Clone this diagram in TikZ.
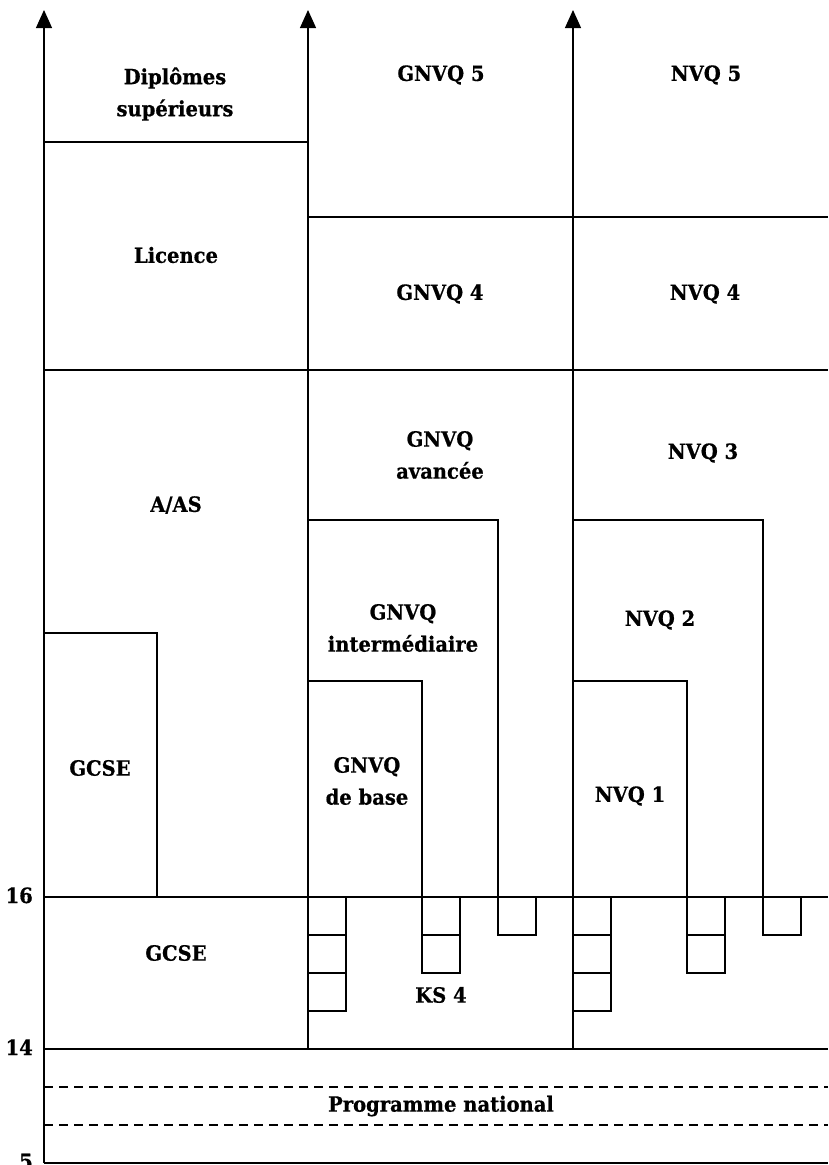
\documentclass[tikz,border=0pt]{standalone}
\usepackage{fontspec}
\newfontfamily\labfont{DejaVu Serif}[FakeStretch=0.93,FakeBold=0.6]
\usetikzlibrary{arrows.meta}
\begin{document}
\begin{tikzpicture}[x=1pt,y=-1pt,
  ln/.style={line width=1.2pt},
  ax/.style={line width=1.2pt,-{Triangle[width=16pt,length=18pt]}},
  dsh/.style={line width=1.1pt,dash pattern=on 9pt off 6pt},
  lab/.style={font=\labfont\bfseries\fontsize{21}{32}\selectfont,align=center,inner sep=0pt},
  num/.style={font=\labfont\bfseries\fontsize{21}{24}\selectfont,inner sep=0pt,anchor=base east},
  sq/.style={line width=1.2pt}]
\useasboundingbox (0,0) rectangle (828,1165);
% axes
\coordinate (a1b) at (44,1163); \coordinate (a1t) at (44,10);
\coordinate (a2b) at (308,1049); \coordinate (a2t) at (308,10);
\coordinate (a3b) at (573,1049); \coordinate (a3t) at (573,10);
\draw[ax] (a1b) -- (a1t);
\draw[ax] (a2b) -- (a2t);
\draw[ax] (a3b) -- (a3t);
% horizontal lines
\draw[ln] (44,142) -- (308,142);
\draw[ln] (308,217) -- (828,217);
\draw[ln] (44,370) -- (828,370);
\draw[ln] (44,897) -- (828,897);
\draw[ln] (44,1049) -- (828,1049);
\draw[dsh] (44,1087) -- (828,1087);
\draw[dsh] (44,1125) -- (828,1125);
\draw[ln] (44,1163) -- (828,1163);
% inner boxes
\draw[ln] (44,633) -- (157,633) -- (157,897);
\draw[ln] (308,520) -- (498,520) -- (498,897);
\draw[ln] (308,681) -- (422,681) -- (422,897);
\draw[ln] (573,520) -- (763,520) -- (763,897);
\draw[ln] (573,681) -- (687,681) -- (687,897);
% small squares
\foreach \x/\n in {308/3,422/2,498/1,573/3,687/2,763/1}{
  \foreach \k in {1,...,\n}{
    \draw[sq] (\x,{897+38*(\k-1)}) rectangle ({\x+38},{897+38*\k});
  }
}
% labels
\node[lab] (dip) at (175,94) {Diplômes\\supérieurs};
\node[lab] (g5) at (441,75) {GNVQ 5};
\node[lab] (n5) at (706,75) {NVQ 5};
\node[lab] (lic) at (176,255) {Licence};
\node[lab] (g4) at (440,294) {GNVQ 4};
\node[lab] (n4) at (705,294) {NVQ 4};
\node[lab] (aas) at (176,505) {A/AS};
\node[lab] (gav) at (440,455) {GNVQ\\avancée};
\node[lab] (n3) at (703,453) {NVQ 3};
\node[lab] (gint) at (403,628) {GNVQ\\intermédiaire};
\node[lab] (n2) at (660,620) {NVQ 2};
\node[lab] (gcse1) at (100,768) {GCSE};
\node[lab] (gbase) at (367,781) {GNVQ\\de base};
\node[lab] (n1) at (630,796) {NVQ 1};
\node[lab] (gcse2) at (176,953) {GCSE};
\node[lab] (ks4) at (441,995) {KS 4};
\node[lab] (prog) at (441,1106) {Programme national};
\node[num] (y16) at (33,903) {16};
\node[num] (y14) at (33,1055) {14};
\node[num] (y5) at (33,1169) {5};
\end{tikzpicture}
\end{document}
